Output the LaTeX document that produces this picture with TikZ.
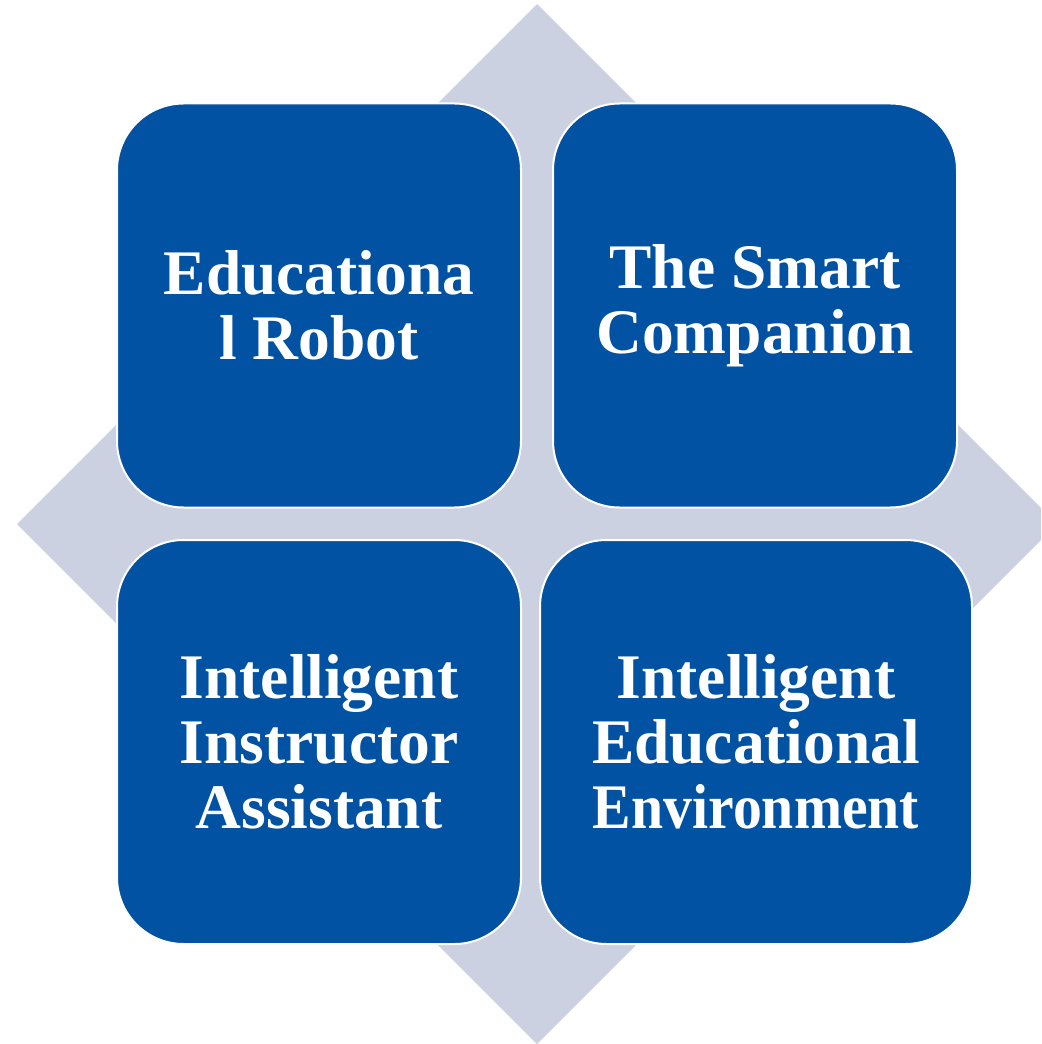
\documentclass[tikz,border=0pt]{standalone}
\usepackage{fontspec}
\setmainfont{Liberation Serif}
\definecolor{tileblue}{RGB}{1,82,162}
\definecolor{diamondgray}{RGB}{204,209,225}
\tikzset{
  tile/.style={draw=white, line width=1.5pt, fill=tileblue, text=white,
    rounded corners=50pt, minimum height=303pt, inner sep=0pt, align=center,
    font=\bfseries\fontsize{47.6pt}{48.75pt}\selectfont}
}
\begin{document}
\begin{tikzpicture}[x=0.75pt,y=-0.75pt]

\useasboundingbox (0,0) rectangle (1041,1044);
% diamond behind the tiles
\begin{scope}
\clip (0,0) rectangle (1041,1044);
\fill[diamondgray] (537,4) -- (1057,524) -- (537,1044) -- (17,524) -- cycle;
\end{scope}

% the four tiles
\node[tile, minimum width=303pt] (robot) at (319,305.5) {Educationa\\l Robot};
\node[tile, minimum width=303pt] (companion) at (755,305.5) {The Smart\\Companion};
\node[tile, minimum width=303pt] (assistant) at (319,742) {Intelligent\\Instructor\\Assistant};
\node[tile, minimum width=324pt] (environment) at (756,742) {Intelligent\\Educational\\\scalebox{0.91}[1]{Environment}};

\end{tikzpicture}
\end{document}
